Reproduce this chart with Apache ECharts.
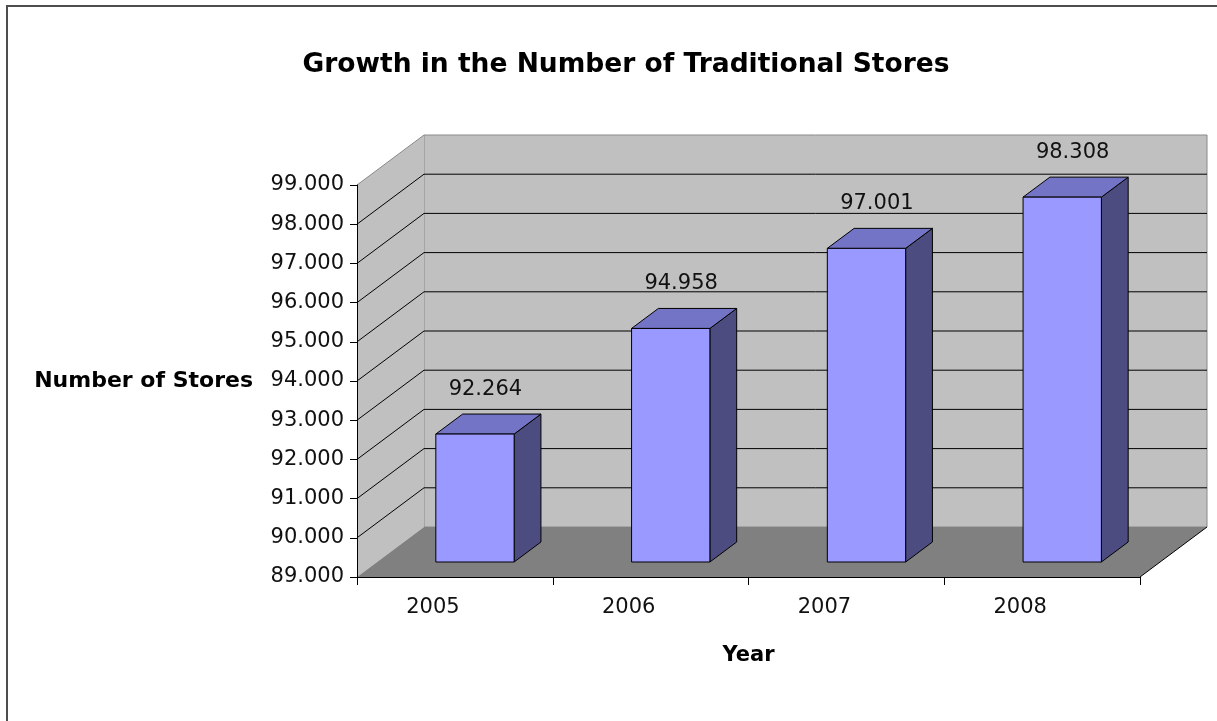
<!DOCTYPE html>
<html>
<head>
<meta charset="utf-8">
<script src="https://cdn.jsdelivr.net/npm/echarts@6/dist/echarts.min.js"></script>
<style>
html,body{margin:0;padding:0;background:#fff;}
#chart{width:1217px;height:721px;}
</style>
</head>
<body>
<div id="chart"></div>
<script>
// ---- data ----
const categories = ['2005', '2006', '2007', '2008'];
const storeCounts = [92264, 94958, 97001, 98308];
const gridValues = [90000, 91000, 92000, 93000, 94000, 95000, 96000, 97000, 98000];
const Y_MIN = 89000;
const Y_MAX = 99000;
const Y_STEP = 1000;
const chartTitle = 'Growth in the Number of Traditional Stores';
const yName = 'Number of Stores';
const xName = 'Year';

// ---- 3D look constants (styling only) ----
const DX = 67, DY = -50;          // depth offset of the back wall
const BAR_FRONT = 0.3, BAR_DEPTH = 0.4, BAR_W = 0.4;
const FONT = 'DejaVu Sans';

function fmt(v) { return String(v).replace(/\B(?=(\d{3})+(?!\d))/g, '.'); }

const chart = echarts.init(document.getElementById('chart'), null, {renderer: 'canvas'});

function back(p) { return [p[0] + DX, p[1] + DY]; }

function renderWalls(params, api) {
  const bw = api.size([1, 0])[0];
  const bl = api.coord([0, Y_MIN]); bl[0] -= bw / 2;
  const br = api.coord([categories.length - 1, Y_MIN]); br[0] += bw / 2;
  const tl = api.coord([0, Y_MAX]); tl[0] -= bw / 2;
  const tr = [br[0], tl[1]];
  return {
    type: 'group',
    children: [
      {type: 'polygon', shape: {points: [back(bl), back(br), back(tr), back(tl)]},
       style: {fill: '#C0C0C0', stroke: '#8a8a8a', lineWidth: 1}},
      {type: 'polygon', shape: {points: [bl, back(bl), back(tl), tl]},
       style: {fill: '#C0C0C0', stroke: null}},
      {type: 'polygon', shape: {points: [bl, br, back(br), back(bl)]},
       style: {fill: '#808080', stroke: null}},
      {type: 'line', shape: {x1: tl[0], y1: tl[1], x2: back(tl)[0], y2: back(tl)[1]},
       style: {stroke: '#8a8a8a', lineWidth: 1}},
      {type: 'line', shape: {x1: br[0], y1: br[1], x2: back(br)[0], y2: back(br)[1]},
       style: {stroke: '#000', lineWidth: 1}}
    ]
  };
}

function renderGrid(params, api) {
  const v = api.value(0);
  const bw = api.size([1, 0])[0];
  const l = api.coord([0, v]); l[0] -= bw / 2;
  const r = api.coord([categories.length - 1, v]); r[0] += bw / 2;
  const bl = back(l), brr = back(r);
  return {
    type: 'group',
    children: [
      {type: 'line', shape: {x1: bl[0], y1: bl[1], x2: brr[0], y2: brr[1]}, style: {stroke: '#000', lineWidth: 1}},
      {type: 'line', shape: {x1: l[0], y1: l[1], x2: bl[0], y2: bl[1]}, style: {stroke: '#000', lineWidth: 1}}
    ]
  };
}

function renderBar(params, api) {
  const idx = api.value(0), val = api.value(1);
  const bw = api.size([1, 0])[0];
  const top = api.coord([idx, val]);
  const base = api.coord([idx, Y_MIN]);
  const w = bw * BAR_W;
  const fx0 = top[0] - w / 2 + DX * BAR_FRONT, fx1 = fx0 + w;
  const yT = top[1] + DY * BAR_FRONT, yB = base[1] + DY * BAR_FRONT;
  const ddx = DX * BAR_DEPTH, ddy = DY * BAR_DEPTH;
  const edge = {stroke: '#000', lineWidth: 1, lineJoin: 'miter'};
  return {
    type: 'group',
    children: [
      {type: 'polygon', shape: {points: [[fx1, yB], [fx1 + ddx, yB + ddy], [fx1 + ddx, yT + ddy], [fx1, yT]]},
       style: Object.assign({fill: '#4C4C80'}, edge)},
      {type: 'polygon', shape: {points: [[fx0, yT], [fx1, yT], [fx1 + ddx, yT + ddy], [fx0 + ddx, yT + ddy]]},
       style: Object.assign({fill: '#7474C6'}, edge)},
      {type: 'polygon', shape: {points: [[fx0, yB], [fx1, yB], [fx1, yT], [fx0, yT]]},
       style: Object.assign({fill: '#9999FF'}, edge)},
      {type: 'text', style: {text: fmt(val), x: fx0 + w / 2 + ddx / 2 - 3, y: yT + ddy / 2 - 35,
        textAlign: 'center', textVerticalAlign: 'middle', fill: '#111',
        font: '21px "' + FONT + '"'}}
    ]
  };
}

const option = {
  animation: false,
  backgroundColor: '#fff',
  grid: {left: 357, right: 77, top: 185, bottom: 144, containLabel: false},
  xAxis: {
    type: 'category', data: categories, z: 10,
    name: xName, nameLocation: 'middle', nameGap: 68,
    nameTextStyle: {fontFamily: FONT, fontWeight: 'bold', fontSize: 21, color: '#000'},
    axisLine: {lineStyle: {color: '#000', width: 1}},
    axisTick: {show: true, length: 8, alignWithLabel: false, lineStyle: {color: '#000'}},
    axisLabel: {fontFamily: FONT, fontSize: 21, color: '#111', margin: 20, padding: [0, 44, 0, 0]},
    splitLine: {show: false}
  },
  yAxis: {
    type: 'value', min: Y_MIN, max: Y_MAX, interval: Y_STEP, z: 10,
    name: yName, nameLocation: 'middle', nameRotate: 0, nameGap: 104,
    nameTextStyle: {fontFamily: FONT, fontWeight: 'bold', fontSize: 22, color: '#000', padding: [18, 0, 0, 0]},
    axisLine: {show: true, lineStyle: {color: '#000', width: 1}},
    axisTick: {show: true, length: 7, lineStyle: {color: '#000'}},
    axisLabel: {fontFamily: FONT, fontSize: 21, color: '#111', margin: 13, formatter: fmt,
      verticalAlign: 'middle', padding: [6, 0, 0, 0]},
    splitLine: {show: false}
  },
  graphic: [
    {type: 'rect', z: 100, silent: true, shape: {x: 7, y: 6, width: 1300, height: 800},
     style: {fill: null, stroke: '#4d4d4d', lineWidth: 2}},
    {type: 'text', z: 100, style: {text: chartTitle, x: 626, y: 65, textAlign: 'center', textVerticalAlign: 'middle',
     font: 'bold 26.5px "' + FONT + '"', fill: '#000'}}
  ],
  series: [
    {type: 'custom', name: 'walls', z: 1, renderItem: renderWalls, data: [[0]], silent: true},
    {type: 'custom', name: 'grid', z: 2, renderItem: renderGrid, data: gridValues.map(v => [v]),
     encode: {y: 0}, silent: true},
    {type: 'custom', name: 'Stores', z: 3, renderItem: renderBar,
     data: storeCounts.map((v, i) => [i, v]), encode: {x: 0, y: 1}}
  ]
};
chart.setOption(option);
</script>
</body>
</html>
